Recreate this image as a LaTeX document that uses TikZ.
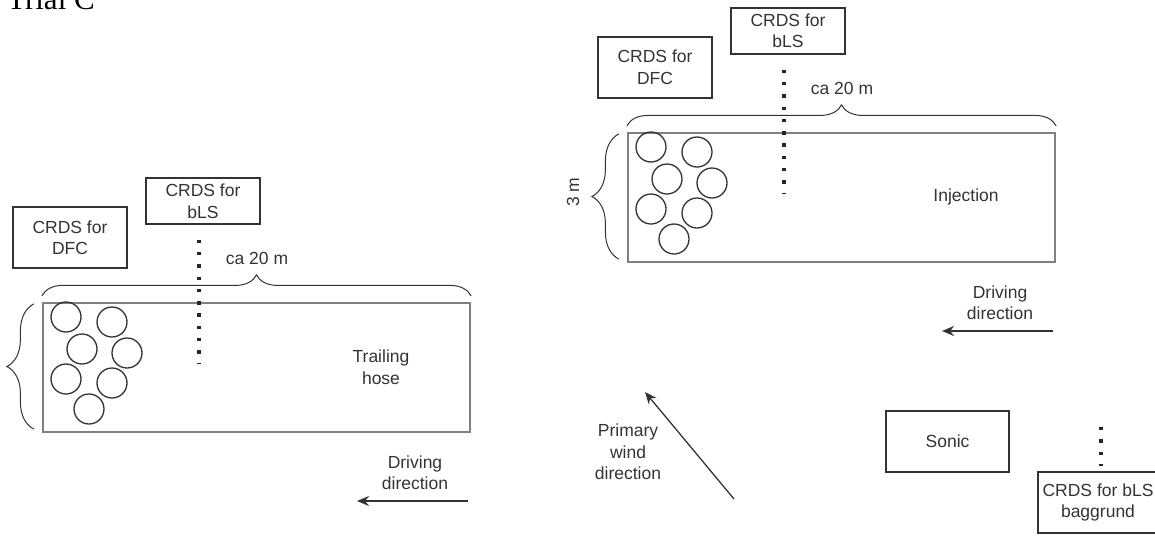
\documentclass[tikz,border=0pt]{standalone}
\usepackage{fontspec}
\setmainfont{Liberation Sans}
\newfontfamily\headfont{Liberation Serif}
\usepackage{tikz}
\usetikzlibrary{arrows.meta, decorations.pathreplacing}

\begin{document}
\begin{tikzpicture}[
    x=1pt, y=-1pt,
    every node/.style={font=\fontsize{17.5}{21.5}\selectfont, text=black!80},
    box/.style={rectangle, draw=black!80, line width=1.3pt, minimum width=114pt, minimum height=61pt, inner sep=0pt, align=center},
    field/.style={rectangle, draw=black!50, line width=2.2pt, minimum width=427pt, minimum height=129pt, inner sep=0pt},
    bale/.style={circle, draw=black!80, line width=1.3pt, minimum size=30pt, inner sep=0pt},
    txt/.style={align=center, inner sep=0pt},
    dots/.style={black!85, line width=3.4pt, dash pattern=on 3.4pt off 8.9pt},
    dimbrace/.style={decorate, decoration={brace, amplitude=#1}, draw=black!80, line width=1pt},
    arrow/.style={-{Stealth[length=12pt, width=10pt]}, black!80, line width=2pt},
]
\useasboundingbox (0,0) rectangle (1155,536);
\clip (0,0) rectangle (1155,536);

\node[font=\headfont\fontsize{31}{31}\selectfont, text=black, anchor=base west, inner sep=0pt] (title) at (7,9) {Trial C};

% trailing hose field
\begin{scope}[shift={(43,303)}]
\node[field] (thfield) at (213.5,64.5) {};
\node[box] (thdfc) at (27,-65.5) {CRDS for\\DFC};
\node[box, minimum height=46pt] (thbls) at (160,-102) {CRDS for\\bLS};
\coordinate (thdot) at (156,61);
\draw[dots] ([xshift=-4pt,yshift=-15pt]thbls.south) -- (thdot);
\node[txt] (thlen) at (214,-45) {ca 20 m};
\draw[dimbrace=21pt] ([yshift=6pt]thfield.north west) -- ([yshift=6pt]thfield.north east);
\draw[dimbrace=27pt] ([xshift=-8pt,yshift=4pt]thfield.south west) -- ([xshift=-8pt,yshift=-2pt]thfield.north west);
\node[bale] (th1) at (23,14) {};
\node[bale] (th2) at (69,19) {};
\node[bale] (th3) at (39,46) {};
\node[bale] (th4) at (84,50) {};
\node[bale] (th5) at (23,76) {};
\node[bale] (th6) at (69,80) {};
\node[bale] (th7) at (46,106) {};
\node[txt] (thtype) at (338,64) {Trailing\\hose};
\node[txt] (thdrive) at (372,169.5) {Driving\\direction};
\coordinate (thdrvA) at (425,198);
\coordinate (thdrvB) at (314,198);
\draw[arrow] (thdrvA) -- (thdrvB);
\end{scope}

% injection field
\begin{scope}[shift={(628,133)}]
\node[field] (infield) at (213.5,64.5) {};
\node[box] (indfc) at (27,-65.5) {CRDS for\\DFC};
\node[box, minimum height=46pt] (inbls) at (160,-102) {CRDS for\\bLS};
\coordinate (indot) at (156,61);
\draw[dots] ([xshift=-4pt,yshift=-15pt]inbls.south) -- (indot);
\node[txt] (inlen) at (214,-45) {ca 20 m};
\draw[dimbrace=21pt] ([yshift=6pt]infield.north west) -- ([yshift=6pt]infield.north east);
\draw[dimbrace=27pt] ([xshift=-8pt,yshift=4pt]infield.south west) -- ([xshift=-8pt,yshift=-2pt]infield.north west);
\node[txt, rotate=90] (inwidth) at (-55,59) {3 m};
\node[bale] (in1) at (23,14) {};
\node[bale] (in2) at (69,19) {};
\node[bale] (in3) at (39,46) {};
\node[bale] (in4) at (84,50) {};
\node[bale] (in5) at (23,76) {};
\node[bale] (in6) at (69,80) {};
\node[bale] (in7) at (46,106) {};
\node[txt] (intype) at (338,64) {Injection};
\node[txt] (indrive) at (372,169.5) {Driving\\direction};
\coordinate (indrvA) at (425,198);
\coordinate (indrvB) at (314,198);
\draw[arrow] (indrvA) -- (indrvB);
\end{scope}

% wind, sonic and background
\node[txt] (windlbl) at (628,452) {Primary\\wind\\direction};
\coordinate (windfrom) at (734,499);
\coordinate (windto) at (645,392);
\draw[arrow, line width=1.3pt] (windfrom) -- (windto);
\node[box, minimum width=123pt] (sonic) at (947.5,441.5) {Sonic};
\node[box, minimum width=120pt] (bgbls) at (1098,502.5) {CRDS for bLS\\baggrund};
\coordinate (bgdot) at (1101,427);
\draw[dots] (bgdot) -- ([xshift=3pt,yshift=5pt]bgbls.north);
\end{tikzpicture}
\end{document}
